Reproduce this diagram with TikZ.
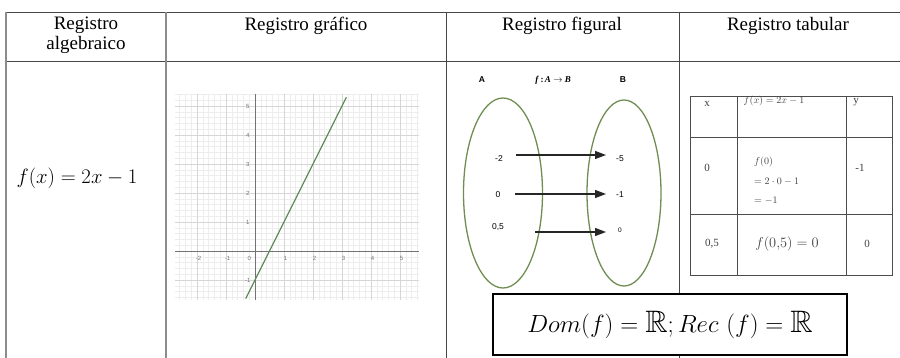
\documentclass[tikz,border=0pt]{standalone}
\usepackage{amssymb}
\usepackage{fontspec}
\setmainfont{Liberation Serif}
\newfontfamily\timesf{Liberation Serif}
\newfontfamily\arialf{Liberation Sans}
\usetikzlibrary{arrows.meta,shapes.geometric}
\definecolor{olivel}{RGB}{112,142,82}
\definecolor{flinec}{RGB}{96,140,92}
\definecolor{tabdark}{RGB}{70,70,70}
\definecolor{tabgray}{RGB}{140,140,140}
\tikzset{
  hdr/.style={inner sep=0pt, font=\timesf\fontsize{19}{20}\selectfont, align=center},
  minorl/.style={draw=black!7, line width=0.4pt},
  majorl/.style={draw=black!16, line width=0.6pt},
  axisl/.style={draw=black!55, line width=0.8pt},
  tickl/.style={font=\arialf\fontsize{6}{7}\selectfont, text=black!55, inner sep=0pt},
  fline/.style={draw=flinec, line width=1.2pt},
  setell/.style={ellipse, draw=olivel, line width=1.3pt, inner sep=0pt},
  setlbl/.style={font=\arialf\bfseries\fontsize{8.5}{10}\selectfont, inner sep=0pt},
  val/.style={font=\arialf\fontsize{8.5}{10}\selectfont, inner sep=0pt},
  maparr/.style={draw=black!85, line width=1.2pt, -{Triangle[length=11pt,width=8pt]}},
  itab/.style={draw=black!70, line width=0.9pt},
  tcell/.style={font=\timesf\fontsize{11}{12}\selectfont, text=black!75, inner sep=0pt},
  tmath/.style={font=\timesf\fontsize{10}{19.5}\selectfont, text=black!75, inner sep=0pt},
  dombox/.style={draw=black, line width=1.5pt, fill=white, minimum width=354pt, minimum height=61pt, inner sep=0pt}
}
\begin{document}
\begin{tikzpicture}[x=1pt,y=-1pt]
\useasboundingbox[fill=white] (0,0) rectangle (900,358);
% outer table
\draw[tabdark, line width=0.9pt] (6,12) -- (900,12);
\draw[tabdark, line width=0.9pt] (6,61) -- (900,61);
\draw[tabgray, line width=1.6pt] (6,12) -- (6,358);
\draw[tabgray, line width=1.2pt] (166,12) -- (166,358);
\draw[tabdark, line width=0.9pt] (446,12) -- (446,358);
\draw[tabdark, line width=0.9pt] (679,12) -- (679,358);
% headers
\node[hdr] (h1) at (86,35) {Registro\\algebraico};
\node[hdr] (h2) at (306,26) {Registro gráfico};
\node[hdr] (h3) at (562,26) {Registro figural};
\node[hdr] (h4) at (788,26) {Registro tabular};
% algebraic
\node[inner sep=0pt, font=\fontsize{22}{26}\selectfont] (alg) at (77,178) {$f(x) = 2x - 1$};
% graph
\begin{scope}[shift={(255,251)}, x=29pt, y=29pt]
  \foreach \i in {-13,...,28} \draw[minorl] (\i/5,-1.7) -- (\i/5,5.4);
  \foreach \j in {-8,...,27} \draw[minorl] (-2.75,\j/5) -- (5.65,\j/5);
  \foreach \i in {-2,...,5} \draw[majorl] (\i,-1.7) -- (\i,5.4);
  \foreach \j in {-1,...,5} \draw[majorl] (-2.75,\j) -- (5.65,\j);
  \draw[axisl] (-2.75,0) -- (5.65,0);
  \draw[axisl] (0,-1.7) -- (0,5.4);
  \foreach \i in {-2,-1,1,2,3,4,5} \node[tickl] at (\i+0.05,-0.25) {\i};
  \node[tickl] at (-0.2,-0.25) {0};
  \foreach \j in {-1,1,2,3,4,5} \node[tickl] at (-0.25,\j) {\j};
  \draw[fline] (-0.32,-1.64) -- (3.15,5.3);
\end{scope}
% figural
\node[setlbl] (lA) at (482,80) {A};
\node[inner sep=0pt, font=\timesf\bfseries\fontsize{9}{10}\selectfont] (lf) at (553,80) {\textit{f}\,{:}\,\textit{A} $\rightarrow$ \textit{B}};
\node[setlbl] (lB) at (623,80) {B};
\node[setell, minimum width=79pt, minimum height=190pt] (setA) at (503,193) {};
\node[setell, minimum width=74pt, minimum height=186pt] (setB) at (624,193) {};
\node[val] (a1) at (499,159) {-2};
\node[val] (a2) at (498,195) {0};
\node[val] (a3) at (498,227) {0,5};
\node[val] (b1) at (620,159) {-5};
\node[val] (b2) at (620,195) {-1};
\node[val, font=\arialf\fontsize{6.5}{8}\selectfont] (b3) at (620,230) {0};
\draw[maparr] ([shift={(17,-4)}]a1.center) -- ([shift={(-14,-4)}]b1.center);
\draw[maparr] ([shift={(17,-1)}]a2.center) -- ([shift={(-14,-1)}]b2.center);
\draw[maparr] ([shift={(37,5)}]a3.center) -- ([shift={(-14,2)}]b3.center);
% tabular
\draw[itab] (690,96) rectangle (892,275);
\draw[itab] (690,137) -- (892,137);
\draw[itab] (690,214) -- (892,214);
\draw[itab] (737,96) -- (737,275);
\draw[itab] (846,96) -- (846,275);
\node[tcell] (tx) at (707,104) {x};
\node[tmath] (tf) at (774,101) {$f(x) = 2x - 1$};
\node[tcell] (ty) at (856,102) {y};
\node[tcell] (r1x) at (707,168) {0};
\node[tmath, anchor=west, align=left] (r1f) at (754,181) {$f(0)$\\$=2\cdot 0-1$\\$=-1$};
\node[tcell] (r1y) at (860,168) {-1};
\node[tcell] (r2x) at (712,244) {0,5};
\node[inner sep=0pt, font=\fontsize{14}{16}\selectfont, text=black!75] (r2f) at (787,244) {$f(0{,}5) = 0$};
\node[tcell] (r2y) at (867,244) {0};
% domain box
\node[dombox, font=\fontsize{31}{35}\selectfont] (dom) at (670,324.5) {$Dom(f) = \mathbb{R}; Rec\ (f) = \mathbb{R}$};
\end{tikzpicture}
\end{document}
